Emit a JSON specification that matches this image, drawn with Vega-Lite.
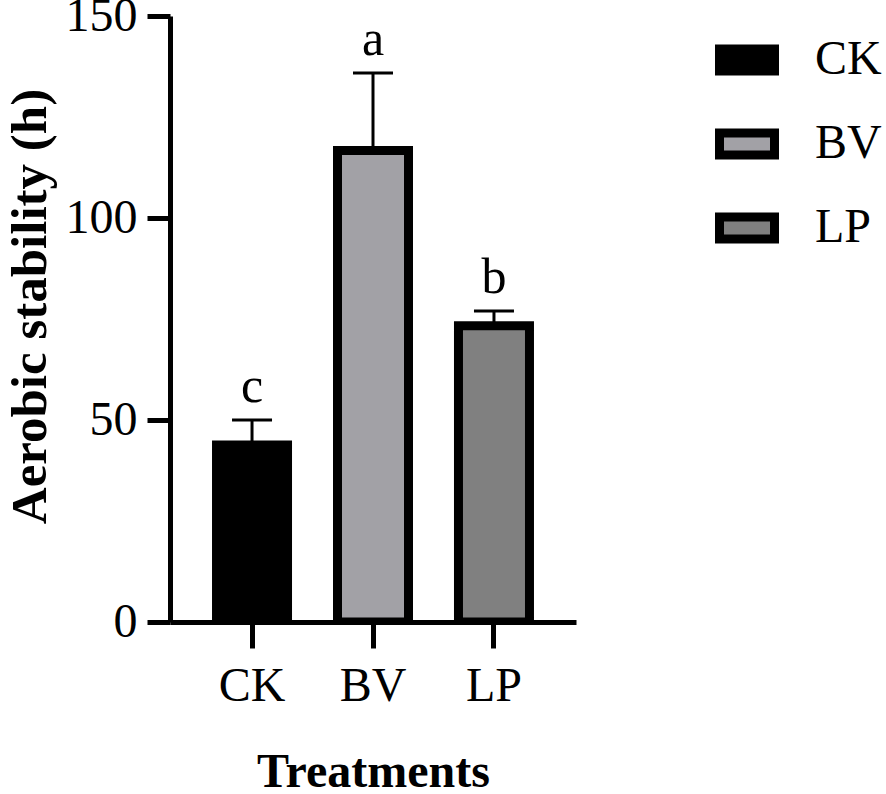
{
  "$schema": "https://vega.github.io/schema/vega-lite/v6.json",
  "autosize": "none",
  "width": 406,
  "height": 606,
  "padding": {"left": 170, "top": 16, "right": 310, "bottom": 172},
  "background": "white",
  "data": {
    "values": [
      {"treatment": "CK", "mean": 43.8, "upper": 50.0, "letter": "c"},
      {"treatment": "BV", "mean": 116.7, "upper": 135.9, "letter": "a"},
      {"treatment": "LP", "mean": 73.3, "upper": 77.0, "letter": "b"}
    ]
  },
  "encoding": {
    "x": {
      "field": "treatment",
      "type": "nominal",
      "sort": ["CK", "BV", "LP"],
      "scale": {"paddingOuter": 0.178, "paddingInner": 0},
      "axis": {
        "title": "Treatments",
        "labelAngle": 0,
        "labelFontSize": 48,
        "labelPadding": 14,
        "tickSize": 26,
        "tickWidth": 5,
        "domainWidth": 5,
        "titleFontSize": 48,
        "titleFontWeight": "bold",
        "titleBaseline": "alphabetic",
        "titleY": 164,
        "titleX": 203,
        "zindex": 1
      }
    }
  },
  "layer": [
    {
      "mark": {"type": "bar", "width": 71, "stroke": "black", "strokeWidth": 9, "clip": true},
      "encoding": {
        "y": {
          "field": "mean",
          "type": "quantitative",
          "scale": {"domain": [0, 150], "nice": false},
          "axis": {
            "title": "Aerobic stability (h)",
            "values": [0, 50, 100, 150],
            "grid": false,
            "labelFontSize": 48,
            "labelPadding": 10,
            "tickSize": 23,
            "tickWidth": 5,
            "domainWidth": 5,
            "titleFontSize": 51,
            "titleFontWeight": "bold",
            "titleAngle": 270,
            "titleBaseline": "alphabetic",
            "titleAlign": "center",
            "titleX": -125,
            "titleY": 290,
            "zindex": 1
          }
        },
        "color": {
          "field": "treatment",
          "type": "nominal",
          "sort": ["CK", "BV", "LP"],
          "scale": {"domain": ["CK", "BV", "LP"], "range": ["#000000", "#a2a1a6", "#808080"]},
          "legend": {
            "title": null,
            "orient": "none",
            "legendX": 545,
            "legendY": 12,
            "padding": 0,
            "symbolType": "M-1,-0.4H1V0.4H-1Z",
            "symbolSize": 3025,
            "symbolStrokeWidth": 9,
            "symbolStrokeColor": "black",
            "symbolOpacity": 1,
            "labelFontSize": 48,
            "labelOffset": 36,
            "rowPadding": 23,
            "labelColor": "black"
          }
        }
      }
    },
    {
      "mark": {"type": "rule", "color": "black", "strokeWidth": 3},
      "encoding": {
        "y": {"field": "mean", "type": "quantitative"},
        "y2": {"field": "upper"}
      }
    },
    {
      "mark": {"type": "tick", "color": "black", "size": 40, "thickness": 3, "opacity": 1},
      "encoding": {
        "y": {"field": "upper", "type": "quantitative"}
      }
    },
    {
      "mark": {"type": "text", "fontSize": 50, "baseline": "alphabetic", "dy": -18, "color": "black"},
      "encoding": {
        "y": {"field": "upper", "type": "quantitative"},
        "text": {"field": "letter"}
      }
    }
  ],
  "config": {
    "font": "Liberation Serif",
    "view": {"stroke": null},
    "axis": {
      "labelColor": "black",
      "titleColor": "black",
      "domainColor": "black",
      "tickColor": "black",
      "labelFont": "Liberation Serif",
      "titleFont": "Liberation Serif"
    },
    "legend": {"labelFont": "Liberation Serif"},
    "text": {"font": "Liberation Serif"}
  }
}
